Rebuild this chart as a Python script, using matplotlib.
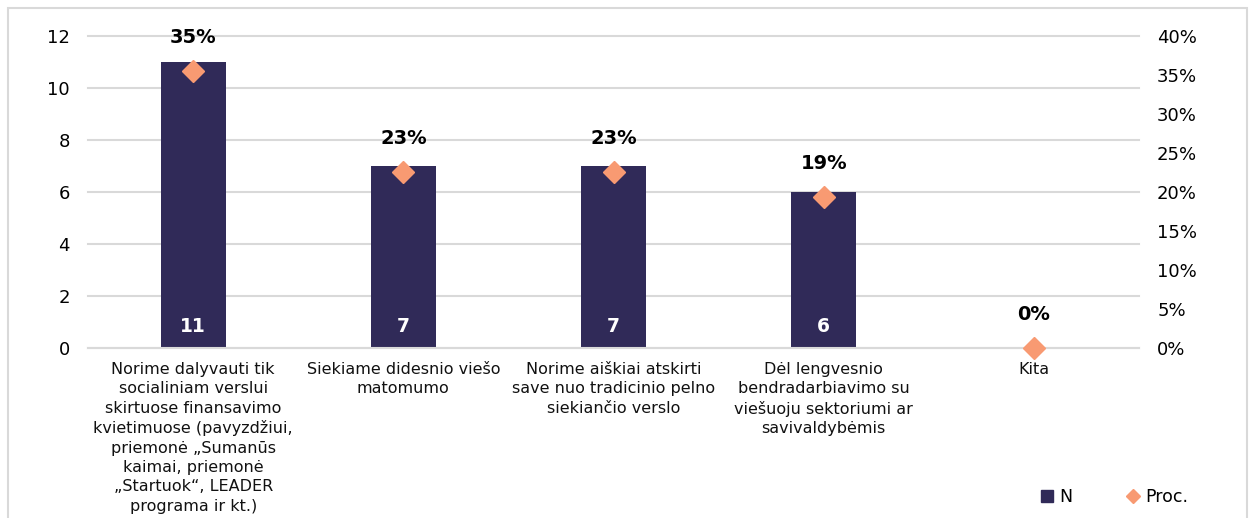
import matplotlib
matplotlib.use("Agg")
import matplotlib.pyplot as plt
from matplotlib.patches import Rectangle
from matplotlib.lines import Line2D

categories = [
    "Norime dalyvauti tik\nsocialiniam verslui\nskirtuose finansavimo\nkvietimuose (pavyzdžiui,\npriemonė „Sumanūs\nkaimai, priemonė\n„Startuok“, LEADER\nprograma ir kt.)",
    "Siekiame didesnio viešo\nmatomumo",
    "Norime aiškiai atskirti\nsave nuo tradicinio pelno\nsiekiančio verslo",
    "Dėl lengvesnio\nbendradarbiavimo su\nviešuoju sektoriumi ar\nsavivaldybėmis",
    "Kita",
]
n_values = [11, 7, 7, 6, 0]
proc_values = [35.5, 22.6, 22.6, 19.4, 0.0]
proc_labels = ["35%", "23%", "23%", "19%", "0%"]
left_ticks = [0, 2, 4, 6, 8, 10, 12]
right_ticks = [0, 5, 10, 15, 20, 25, 30, 35, 40]

bar_color = "#302A58"
dia_color = "#F89A72"
grid_color = "#D9D9D9"

plt.rcParams['font.family'] = ['DejaVu Sans']

fig = plt.figure(figsize=(12.54, 5.18), dpi=100)
ax = fig.add_axes([0.0702, 0.328, 0.8381, 0.6025])
ax2 = ax.twinx()

x = list(range(len(categories)))
ax.bar(x, n_values, width=0.31, color=bar_color, zorder=2)
ax.set_ylim(0, 12)
ax.set_xlim(-0.5, len(categories) - 0.5)
ax.set_yticks(left_ticks)
ax.set_yticklabels([str(t) for t in left_ticks], fontsize=13)
ax.yaxis.grid(True, color=grid_color, linewidth=1.5, zorder=0)
for gl in ax.get_ygridlines():
    gl.set_clip_on(False)
ax.set_axisbelow(True)
ax.set_xticks(x)
ax.set_xticklabels(categories, fontsize=11.5, linespacing=1.36, color="#111111")
ax.tick_params(axis='x', length=0, pad=10)
ax.tick_params(axis='y', length=0, pad=13)
for s in ["top", "right", "left"]:
    ax.spines[s].set_visible(False)
ax.spines["bottom"].set_color(grid_color)
ax.spines["bottom"].set_linewidth(1.5)

for xi, v in zip(x, n_values):
    if v > 0:
        ax.annotate(str(v), (xi, 0), xytext=(0, 15.5), textcoords="offset points",
                    ha="center", va="center", color="white", fontsize=13.5,
                    fontweight="bold", zorder=4)

ax2.plot(x, proc_values, linestyle="none", marker="D", markersize=11,
         color=dia_color, zorder=5, clip_on=False)
ax2.set_ylim(0, 40)
ax2.set_yticks(right_ticks)
ax2.set_yticklabels([f"{t}%" for t in right_ticks], fontsize=13)
ax2.tick_params(axis='y', length=0, pad=13)
for s in ["top", "right", "left", "bottom"]:
    ax2.spines[s].set_visible(False)

for xi, p, lab in zip(x, proc_values, proc_labels):
    ax2.annotate(lab, (xi, p), xytext=(0, 24), textcoords="offset points",
                 ha="center", va="center", color="black", fontsize=14,
                 fontweight="bold")

handles = [
    Line2D([], [], linestyle="none", marker="s", markersize=9, color=bar_color),
    Line2D([], [], linestyle="none", marker="D", markersize=7, color=dia_color),
]
fig.legend(handles, ["N", "Proc."], loc="center", bbox_to_anchor=(0.888, 0.04),
           ncol=2, frameon=False, fontsize=12.5, handletextpad=0.2,
           columnspacing=3.0, handlelength=1.0)

fig.patches.append(Rectangle((8 / 1254, -0.01), 1239 / 1254, 1.01 - 8 / 518,
                             transform=fig.transFigure, fill=False,
                             edgecolor="#D9D9D9", linewidth=1.5))

fig.savefig("out.png", dpi=100)
